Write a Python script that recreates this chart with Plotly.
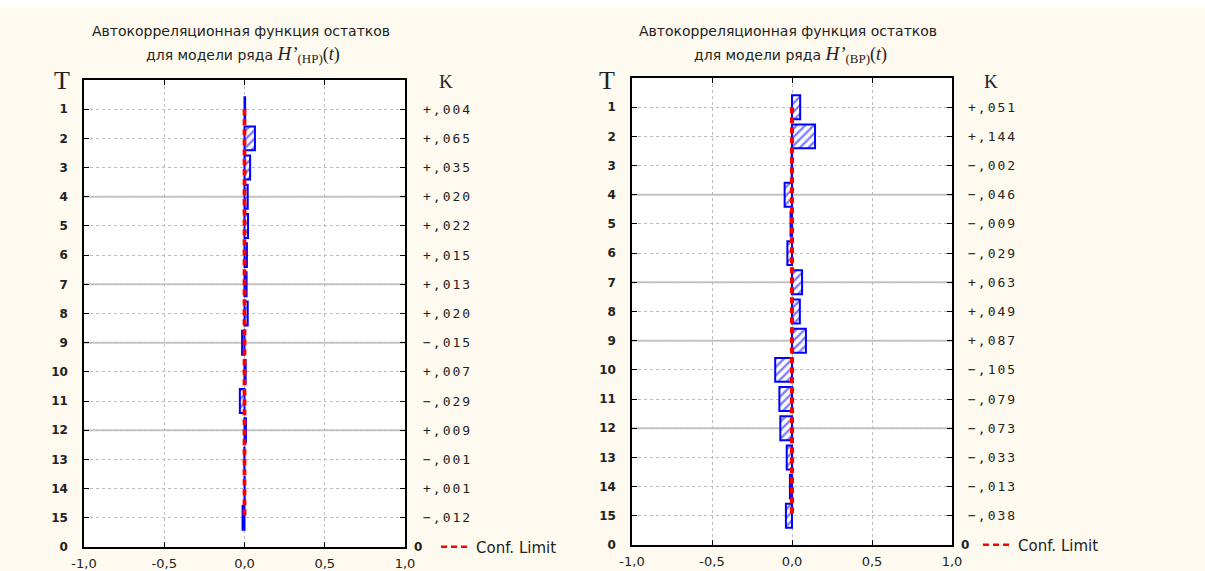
import plotly.graph_objects as go

# ---------------- data ----------------
lags = list(range(1, 16))
lag_labels = [str(v) for v in lags] + ["0"]
acf_hp = [0.004, 0.065, 0.035, 0.020, 0.022, 0.015, 0.013, 0.020,
          -0.015, 0.007, -0.029, 0.009, -0.001, 0.001, -0.012]
acf_bp = [0.051, 0.144, -0.002, -0.046, -0.009, -0.029, 0.063, 0.049,
          0.087, -0.105, -0.079, -0.073, -0.033, -0.013, -0.038]
conf_hp = 0.004
conf_bp = 0.005
x_ticks = [-1.0, -0.5, 0.0, 0.5, 1.0]
x_tick_labels = ["-1,0", "-0,5", "0,0", "0,5", "1,0"]
title_line1 = "Автокорреляционная функция остатков"
series_names = ["НР", "ВР"]
solid_grid_lags = [4, 7, 9, 12]

W, H = 1205, 571
CREAM = "#fefaef"
BLUE = "#0000ff"
RED = "#ff0000"
TXT = "#222222"

panels = [
    dict(vals=acf_hp, conf=conf_hp, name=series_names[0], xs="x", ys="y",
         xd=(84, 405), yd=(80, 547), legend="legend", tx=62, kx=421, k0x=418,
         legx=436),
    dict(vals=acf_bp, conf=conf_bp, name=series_names[1], xs="x2", ys="y2",
         xd=(632, 952), yd=(78, 545), legend="legend2", tx=607, kx=966, k0x=965,
         legx=978),
]

def px_x(v):
    return v / W

def px_y(v):
    return 1 - v / H

fig = go.Figure()
layout = dict(
    width=W, height=H, margin=dict(l=0, r=0, t=0, b=0, autoexpand=False),
    paper_bgcolor=CREAM, plot_bgcolor="white",
    font=dict(family="DejaVu Sans", size=13, color=TXT),
    annotations=[], shapes=[],
)

# white strip at the very top
layout["shapes"].append(dict(type="rect", xref="paper", yref="paper",
                             x0=0, x1=1, y0=px_y(8), y1=1.0, fillcolor="white",
                             line=dict(width=0), layer="above"))

for i, p in enumerate(panels):
    sfx = "" if i == 0 else "2"
    fig.add_trace(go.Bar(
        x=p["vals"], y=lags, orientation="h", width=0.82,
        xaxis=p["xs"], yaxis=p["ys"], showlegend=False,
        marker=dict(color="white", line=dict(color=BLUE, width=2),
                    pattern=dict(shape="/", fgcolor=BLUE, bgcolor="white",
                                 size=6, solidity=0.4)),
        hovertemplate="%{y}: %{x}<extra></extra>",
    ))
    for j, sgn in enumerate([-1, 1]):
        fig.add_trace(go.Scatter(
            x=[sgn * p["conf"]] * len(lags), y=lags, mode="lines",
            xaxis=p["xs"], yaxis=p["ys"], name="Conf. Limit",
            showlegend=(j == 0), legend=p["legend"],
            line=dict(color=RED, width=2.5, dash="6px,4px"),
        ))

    axis_common = dict(showline=True, linecolor="black", linewidth=1.5,
                       mirror="ticks", ticks="inside", ticklen=5,
                       tickwidth=1.2, tickcolor="black", zeroline=False,
                       showgrid=True, griddash="dot", gridcolor="#bcbcbc",
                       gridwidth=1, automargin=False)
    layout["xaxis" + sfx] = dict(
        axis_common, domain=[px_x(p["xd"][0]), px_x(p["xd"][1])],
        range=[-1, 1], tickvals=x_ticks, ticktext=x_tick_labels,
        tickfont=dict(family="DejaVu Sans", size=13, color=TXT),
        ticklabelstandoff=4, anchor=p["ys"],
    )
    layout["yaxis" + sfx] = dict(
        axis_common, domain=[px_y(p["yd"][1]), px_y(p["yd"][0])],
        range=[16, 0], tickvals=lags + [16], ticktext=lag_labels,
        tickfont=dict(family="DejaVu Sans", size=12, color=TXT, weight="bold"),
        ticklabelstandoff=12, anchor=p["xs"],
    )
    for lg in solid_grid_lags:
        layout["shapes"].append(dict(
            type="line", xref=p["xs"] + " domain", yref=p["ys"],
            x0=0, x1=1, y0=lg, y1=lg, layer="below",
            line=dict(color="#c4c4c4", width=2)))

    cx = (p["xd"][0] + p["xd"][1]) / 2 - 4
    layout["annotations"].append(dict(
        text=title_line1, xref="paper", yref="paper", x=px_x(cx), y=px_y(31),
        xanchor="center", yanchor="middle", showarrow=False,
        font=dict(family="DejaVu Sans", size=14, color=TXT)))
    line2 = ("для модели ряда "
             "<span style='font-family:Liberation Serif;font-size:19px'><i>H’</i></span>"
             "<sub><span style='font-family:Liberation Serif;font-size:13px'>(" + p["name"] + ")</span></sub>"
             "<span style='font-family:Liberation Serif;font-size:18px'>(<i>t</i>)</span>")
    layout["annotations"].append(dict(
        text=line2, xref="paper", yref="paper", x=px_x(cx + 2), y=px_y(55),
        xanchor="center", yanchor="middle", showarrow=False,
        font=dict(family="DejaVu Sans", size=14, color=TXT)))
    # axis header letters
    layout["annotations"].append(dict(
        text="Т", xref="paper", yref="paper", x=px_x(p["tx"]), y=px_y(81),
        xanchor="center", yanchor="middle", showarrow=False,
        font=dict(family="Liberation Serif", size=26, color=TXT)))
    layout["annotations"].append(dict(
        text="K", xref="paper", yref="paper", x=px_x(p["kx"] + 25), y=px_y(82),
        xanchor="center", yanchor="middle", showarrow=False,
        font=dict(family="Liberation Serif", size=19, color=TXT)))
    # right side coefficient labels
    for lg, v in zip(lags, p["vals"]):
        sign = "+" if v >= 0 else "−"
        txt = f"{sign},{round(abs(v) * 1000):03d}"
        layout["annotations"].append(dict(
            text=f"<span style='letter-spacing:2px'>{txt}</span>",
            xref="paper", yref=p["ys"], x=px_x(p["kx"]), y=lg,
            xanchor="left", yanchor="middle", showarrow=False,
            font=dict(family="DejaVu Sans Mono", size=13, color=TXT)))
    layout["annotations"].append(dict(
        text="0", xref="paper", yref=p["ys"], x=px_x(p["k0x"]), y=16,
        xanchor="center", yanchor="middle", showarrow=False,
        font=dict(family="DejaVu Sans", size=12, color=TXT, weight="bold")))
    layout[p["legend"]] = dict(
        x=px_x(p["legx"]), y=px_y(p["yd"][1]), xanchor="left", yanchor="middle",
        bgcolor="rgba(0,0,0,0)", borderwidth=0, itemwidth=30,
        font=dict(family="DejaVu Sans", size=15, color=TXT))

fig.update_layout(**layout)
fig.write_html(
    "out.html",
    config={"displayModeBar": False},
    post_script="document.body.style.margin='0';document.body.style.overflow='hidden';",
)
